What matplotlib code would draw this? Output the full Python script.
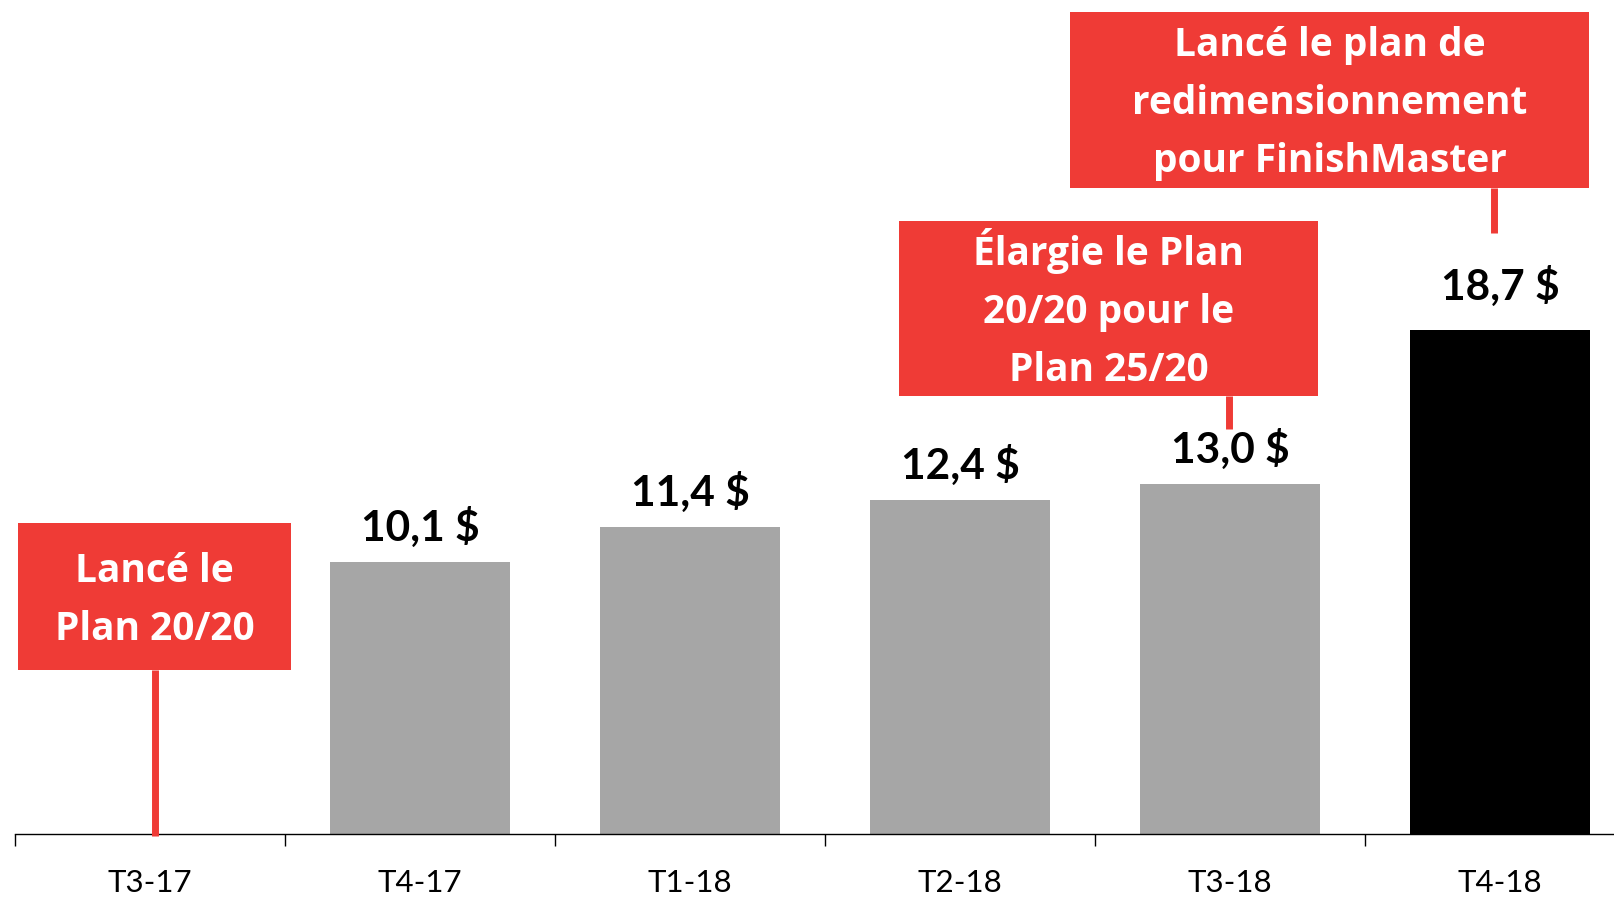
import matplotlib
matplotlib.use("Agg")
import matplotlib.pyplot as plt
from matplotlib.patches import Rectangle
import numpy as np

# ---- data ----
categories = ["T3-17", "T4-17", "T1-18", "T2-18", "T3-18", "T4-18"]
values = [np.nan, 10.1, 11.4, 12.4, 13.0, 18.7]
value_labels = ["", "10,1 $", "11,4 $", "12,4 $", "13,0 $", "18,7 $"]
bar_colors = ["#A6A6A6", "#A6A6A6", "#A6A6A6", "#A6A6A6", "#A6A6A6", "#000000"]
notes = ["Lancé le\nPlan 20/20",
         "Élargie le Plan\n20/20 pour le\nPlan 25/20",
         "Lancé le plan de\nredimensionnement\npour FinishMaster"]

RED = "#EF3B36"
W, H = 1615, 897
fig = plt.figure(figsize=(W / 100, H / 100), dpi=100)
# axes geometry in pixels (axis line extends past right edge as in reference)
ax_left, ax_bottom, ax_w, ax_h = 15, 63, 1620, 834
ax = fig.add_axes([ax_left / W, ax_bottom / H, ax_w / W, ax_h / H])
ax.set_xlim(-0.5, len(categories) - 0.5)
ax.set_ylim(0, 30.95)
ax.patch.set_alpha(0)
for s in ["top", "right", "left"]:
    ax.spines[s].set_visible(False)
ax.spines["bottom"].set_linewidth(1.0)
ax.set_yticks([])

x = np.arange(len(categories))
ax.bar(x, values, width=0.665, color=bar_colors, zorder=2)

ax.set_xticks(x)
ax.set_xticklabels(categories, fontfamily="Lato", fontsize=22.5)
ax.tick_params(axis="x", which="major", length=0, pad=25)
ax.set_xticks(np.arange(len(categories) + 1) - 0.5, minor=True)
ax.tick_params(axis="x", which="minor", length=8.6, width=1.0, direction="out")

# value labels
for i, (v, lab) in enumerate(zip(values, value_labels)):
    if lab:
        off = 21 if i < len(values) - 1 else 30
        ax.annotate(lab, (x[i], v), xytext=(0, off * 0.72), textcoords="offset points",
                    ha="center", va="baseline", fontfamily="Lato", fontweight="bold",
                    fontsize=30.5, color="black")

# annotation boxes (positions in data units)
ppu = ax_h / 30.95  # pixels per y unit
def px2x(px):
    return (px - ax_left) / (ax_w / len(categories)) - 0.5
def py2y(py):
    return (H - ax_bottom - py) / ppu

boxes = [  # left, top, right, bottom (px), connector x, connector end y
    (18, 523, 291, 670, 155, 836),
    (899, 221, 1318, 396, 1229, 429),
    (1070, 12, 1589, 188, 1494, 233),
]
for text, (l, t, r, b, cx, cy) in zip(notes, boxes):
    x0, x1 = px2x(l), px2x(r)
    y0, y1 = py2y(b), py2y(t)
    ax.add_patch(Rectangle((x0, y0), x1 - x0, y1 - y0, facecolor=RED,
                           edgecolor="none", zorder=4, clip_on=False))
    ax.plot([px2x(cx), px2x(cx)], [py2y(b), py2y(cy)], color=RED, lw=5.0,
            solid_capstyle="butt", zorder=4, clip_on=False)
    lines = text.split("\n")
    n = len(lines)
    xc = (x0 + x1) / 2
    yc_px = (t + b) / 2
    for i, line in enumerate(lines):
        base_px = yc_px + (i - (n - 1) / 2) * 58 + 14
        ax.text(xc, py2y(base_px), line, ha="center", va="baseline",
                fontfamily="Open Sans", fontweight="bold", fontsize=28,
                color="white", zorder=5)

fig.savefig("out.png", dpi=100)
